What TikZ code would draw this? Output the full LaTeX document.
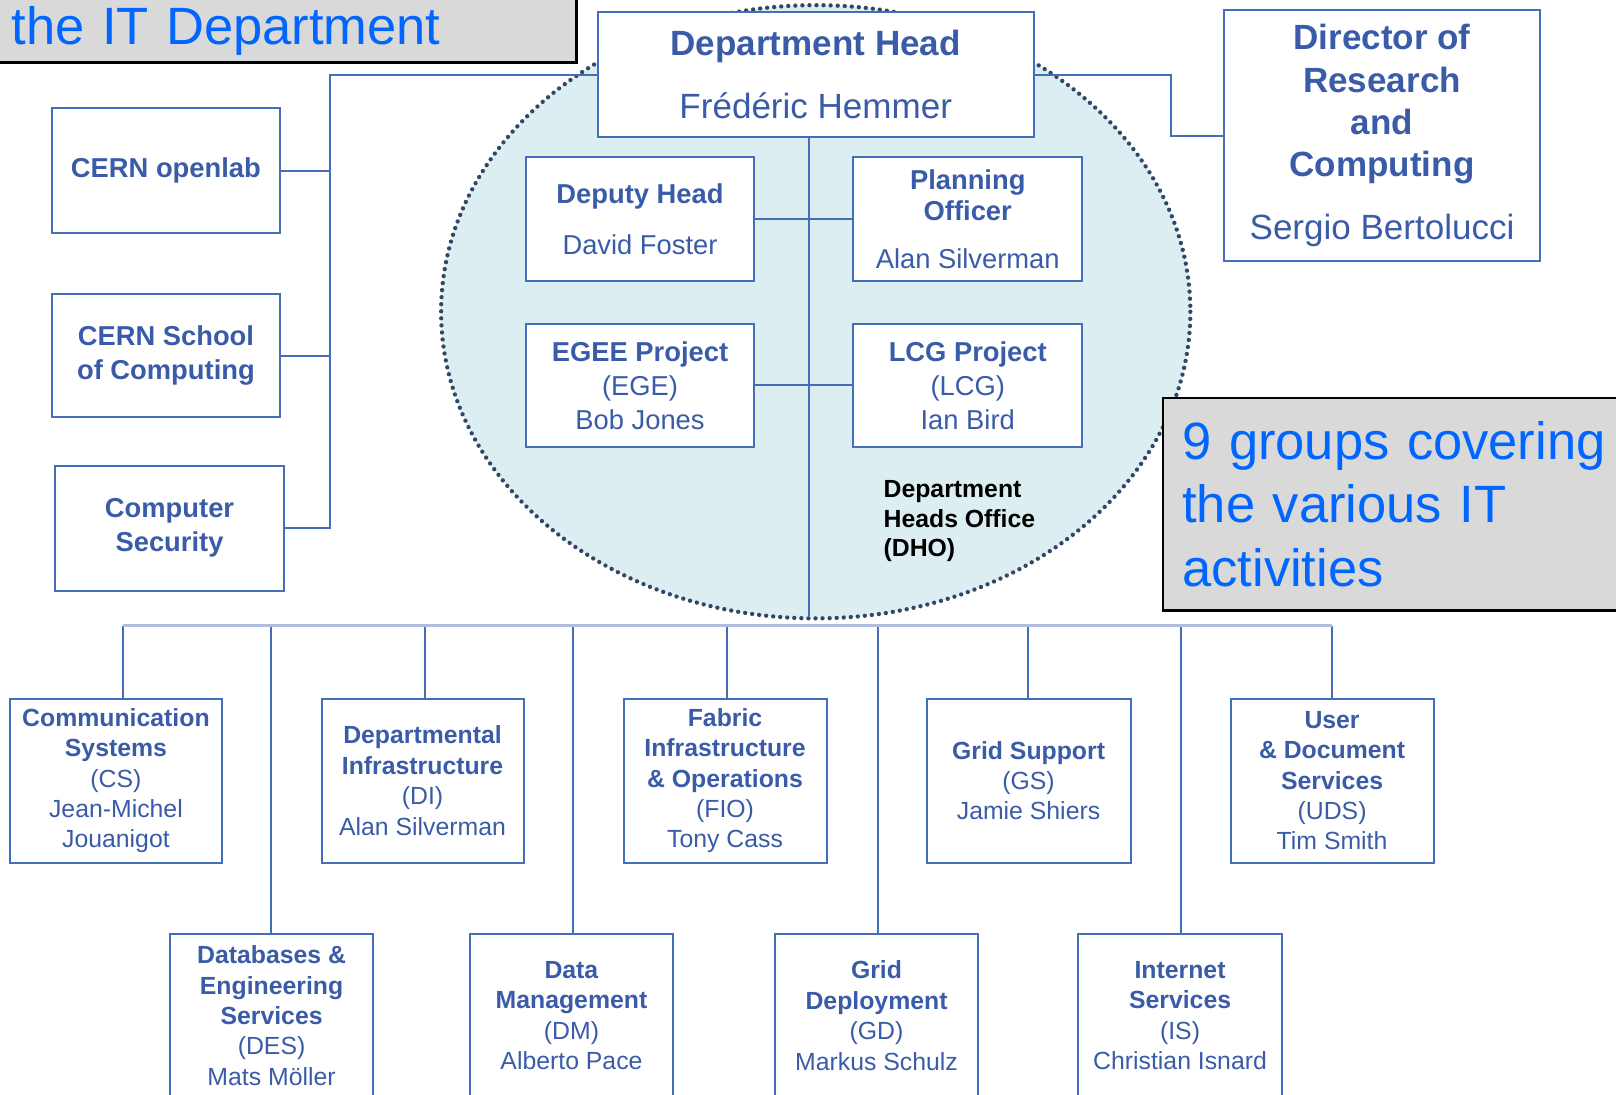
\documentclass[tikz,border=0pt]{standalone}
\usepackage{fontspec}
\setmainfont{Liberation Sans}

\definecolor{orgblue}{RGB}{68,110,186}
\definecolor{orgtext}{RGB}{58,92,168}
\definecolor{titleblue}{RGB}{0,102,255}
\definecolor{dhofill}{RGB}{221,238,242}
\definecolor{dhodots}{RGB}{50,70,102}
\definecolor{barblue}{RGB}{175,190,222}
\definecolor{notegray}{RGB}{217,217,217}

\begin{document}
\begin{tikzpicture}[x=0.02cm,y=-0.02cm,
	unit/.style={draw=orgblue,line width=1.1pt,fill=white,text=orgtext,align=center,inner sep=0pt},
	office/.style={unit,minimum width=4.44cm,minimum height=2.42cm,font=\fontsize{15.1}{18.8}\selectfont},
	chief/.style={unit,font=\fontsize{19.35}{23.3}\selectfont},
	group/.style={unit,minimum width=3.94cm,minimum height=3.18cm,font=\fontsize{13.7}{16.8}\selectfont},
	link/.style={orgblue,line width=1.1pt},
	note/.style={draw=black,line width=1.4pt,fill=notegray,text=titleblue,align=left,inner ysep=0pt,
		font=\fontsize{29}{35.3}\selectfont}]
	\useasboundingbox (0,0) rectangle (1568,1062);
	\clip (0,0) rectangle (1568,1062);

	% department heads office
	\draw[dhodots,fill=dhofill,line width=2.4pt,line cap=round,dash pattern=on 0pt off 3.9pt]
		(791.5,302.5) ellipse [x radius=363.5,y radius=297.5];

	\node (head) [chief,minimum width=8.46cm,minimum height=2.42cm,
		font=\fontsize{19.35}{34.7}\selectfont] at (791.5,72.5)
		{\textbf{Department Head}\\Frédéric Hemmer};
	\node (deputy) [office] at (621,212.5) {\textbf{Deputy Head}\\[9.1pt]David Foster};
	\node (planning) [office] at (939,212.5)
		{\textbf{Planning}\\[-1.7pt]\textbf{Officer}\\[7.6pt]Alan Silverman};
	\node (egee) [office,minimum height=2.4cm] at (621,374) {\textbf{EGEE Project}\\(EGE)\\Bob Jones};
	\node (lcg) [office,minimum height=2.4cm] at (939,374) {\textbf{LCG Project}\\(LCG)\\Ian Bird};
	\node (dho) [anchor=north west,align=left,inner sep=0pt,font=\fontsize{13.7}{16.3}\selectfont\bfseries]
		at (857,466) {Department\\Heads Office\\(DHO)};

	\node (director) [chief,minimum width=6.12cm,minimum height=4.86cm] at (1341,131.5)
		{\textbf{Director of}\\\textbf{Research}\\\textbf{and}\\\textbf{Computing}\\[11.4pt]Sergio Bertolucci};

	\node (openlab) [office] at (161,165.5) {\textbf{CERN openlab}};
	\node (school) [office,minimum height=2.4cm] at (161,345) {\textbf{CERN School}\\\textbf{of Computing}};
	\node (security) [office,minimum width=4.46cm] at (164.5,512.5) {\textbf{Computer}\\\textbf{Security}};

	% groups
	\node (cs) [group,minimum width=4.1cm] at (112.5,757.5)
		{\textbf{Communication}\\\textbf{Systems}\\(CS)\\Jean-Michel\\Jouanigot};
	\node (di) [group,minimum width=3.92cm] at (410,757.5)
		{\textbf{Departmental}\\\textbf{Infrastructure}\\(DI)\\Alan Silverman};
	\node (fio) [group] at (703.5,757.5)
		{\textbf{Fabric}\\\textbf{Infrastructure}\\\textbf{\& Operations}\\(FIO)\\Tony Cass};
	\node (gs) [group,minimum width=3.96cm] at (998,757.5)
		{\textbf{Grid Support}\\(GS)\\Jamie Shiers};
	\node (uds) [group] at (1292.5,757.5)
		{\textbf{User}\\\textbf{\& Document}\\\textbf{Services}\\(UDS)\\Tim Smith};
	\node (des) [group] at (263.5,985.5)
		{\textbf{Databases \&}\\\textbf{Engineering}\\\textbf{Services}\\(DES)\\Mats Möller};
	\node (dm) [group] at (554.5,985.5)
		{\textbf{Data}\\\textbf{Management}\\(DM)\\Alberto Pace};
	\node (gd) [group] at (850.5,985.5)
		{\textbf{Grid}\\\textbf{Deployment}\\(GD)\\Markus Schulz};
	\node (is) [group,minimum width=3.96cm] at (1145,985.5)
		{\textbf{Internet}\\\textbf{Services}\\(IS)\\Christian Isnard};

	% reporting lines
	\coordinate (lspine) at (320,0);
	\coordinate (rbend) at (1136,0);
	\coordinate (spine) at (785,598);
	\draw[link] (head.west) -| (lspine |- security.east) -- (security.east);
	\draw[link] (openlab.east) -- (openlab.east -| lspine);
	\draw[link] (school.east) -- (school.east -| lspine);
	\draw[link] (head.east) -| (rbend |- director.west) -- (director.west);
	\draw[link] (spine |- head.south) -- (spine);
	\draw[link] (deputy.east) -- (planning.west);
	\draw[link] (egee.east) -- (lcg.west);

	\foreach \x/\g in {119/cs,263/des,412/di,556/dm,705/fio,852/gd,997/gs,1146/is,1292/uds} {
		\coordinate (b\g) at (\x,607);
		\draw[link] (b\g) -- (b\g |- \g.north);
	}
	\draw[barblue,line width=1.7pt] (bcs) -- (buds);

	% captions
	\node (title) [note,anchor=south west,minimum width=11.2cm,minimum height=1.25cm,
		text width=10.72cm,inner xsep=0.24cm] at (-2,62) {the IT Department};
	\node (groups) [note,anchor=north west,minimum width=9.26cm,minimum height=4.12cm,
		text width=8.5cm,inner xsep=0.38cm] at (1127,385) {9 groups covering\\the various IT\\activities};
\end{tikzpicture}
\end{document}
